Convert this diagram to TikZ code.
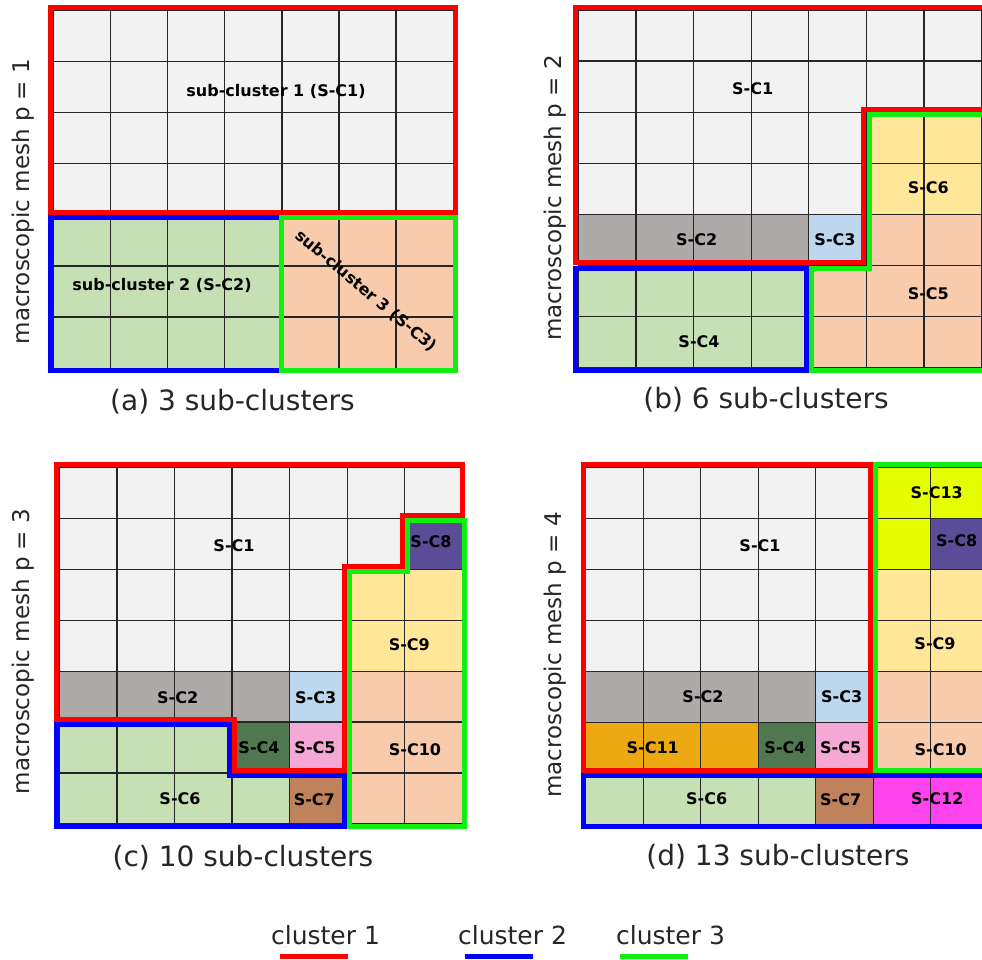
\documentclass[tikz,border=0pt]{standalone}
\usepackage{fontspec}
\setmainfont{DejaVu Sans}
\definecolor{cgrey}{HTML}{F2F2F2}
\definecolor{cgreen}{HTML}{C5E0B4}
\definecolor{cpeach}{HTML}{F8CBAD}
\definecolor{cdgrey}{HTML}{AEAAAA}
\definecolor{cblue}{HTML}{BDD7EE}
\definecolor{cyellow}{HTML}{FFE699}
\definecolor{cdkgreen}{HTML}{507850}
\definecolor{cpink}{HTML}{F5A8D6}
\definecolor{cbrown}{HTML}{BF825A}
\definecolor{cpurple}{HTML}{5B4C98}
\definecolor{corange}{HTML}{EDA912}
\definecolor{cmagenta}{HTML}{FF44EE}
\definecolor{clime}{HTML}{E5FF00}
\definecolor{kred}{HTML}{FF0000}
\definecolor{kblue}{HTML}{0000FF}
\definecolor{kgreen}{HTML}{11EE11}
\def\ox{0.045}
\def\oy{0.05}
\newcommand\meshgrid{%
  \foreach \i in {0,...,7} {\draw[gridline] (\i,0) -- (\i,7);}
  \foreach \j in {0,...,7} {\draw[gridline] (0,\j) -- (7,\j);}}
\tikzset{
  gridline/.style={line width=1.3pt, black!85},
  clborder/.style={line width=5pt, line join=miter},
  sclab/.style={font=\fontsize{16}{18}\selectfont\bfseries, inner sep=0pt},
  captxt/.style={font=\fontsize{28}{32}\selectfont, inner sep=0pt, text=black!85},
  sidelbl/.style={font=\fontsize{23}{26}\selectfont, inner sep=0pt, rotate=90, text=black!85},
  legtxt/.style={font=\fontsize{25}{28}\selectfont, inner sep=0pt, text=black!85}
}
\begin{document}
\begin{tikzpicture}[x=1pt,y=-1pt]
\useasboundingbox (0,0) rectangle (982,959);
\fill[white] (0,0) rectangle (982,959);

% ---------------- panel (a)
\begin{scope}[xshift=53.3pt, yshift=-10pt, x=57.14pt, y=-51.19pt]
  \fill[cgrey] (0,0) rectangle (7,4);
  \fill[cgreen] (0,4) rectangle (4,7);
  \fill[cpeach] (4,4) rectangle (7,7);
  \meshgrid
  \draw[clborder, kred] (-\ox,-\oy) -- (7+\ox,-\oy) -- (7+\ox,4-\oy) -- (-\ox,4-\oy) -- cycle;
  \draw[clborder, kblue] (4,4+\oy) -- (-\ox,4+\oy) -- (-\ox,7+\oy) -- (4,7+\oy);
  \draw[clborder, kgreen] (4,4+\oy) -- (7+\ox,4+\oy) -- (7+\ox,7+\oy) -- (4,7+\oy) -- cycle;
\end{scope}
\node[sclab] (a1) at (276,91.7) {sub-cluster 1 (S-C1)};
\node[sclab] (a2) at (162,285) {sub-cluster 2 (S-C2)};
\node[sclab, rotate=-40] (a3) at (366,291) {sub-cluster 3 (S-C3)};
\node[sidelbl] (sa) at (23,201.5) {macroscopic mesh p = 1};
\node[captxt] (ca) at (232.5,402) {(a) 3 sub-clusters};

% ---------------- panel (b)
\begin{scope}[xshift=578.3pt, yshift=-10pt, x=57.63pt, y=-51.1pt]
  \fill[cgrey] (0,0) rectangle (7,2);
  \fill[cgrey] (0,2) rectangle (5,4);
  \fill[cdgrey] (0,4) rectangle (4,5);
  \fill[cblue] (4,4) rectangle (5,5);
  \fill[cyellow] (5,2) rectangle (7,4);
  \fill[cpeach] (5,4) rectangle (7,7);
  \fill[cpeach] (4,5) rectangle (5,7);
  \fill[cgreen] (0,5) rectangle (4,7);
  \meshgrid
  \draw[clborder, kred] (-\ox,-\oy) -- (7+\ox,-\oy) -- (7+\ox,2-\oy) -- (5-\ox,2-\oy) -- (5-\ox,5-\oy) -- (-\ox,5-\oy) -- cycle;
  \draw[clborder, kgreen] (5+\ox,2+\oy) -- (7+\ox,2+\oy) -- (7+\ox,7+\oy) -- (4+\ox,7+\oy) -- (4+\ox,5+\oy) -- (5+\ox,5+\oy) -- cycle;
  \draw[clborder, kblue] (-\ox,5+\oy) -- (4-\ox,5+\oy) -- (4-\ox,7+\oy) -- (-\ox,7+\oy) -- cycle;
\end{scope}
\node[sclab] (b1) at (752.7,89) {S-C1};
\node[sclab] (b6) at (928.3,187.7) {S-C6};
\node[sclab] (b2) at (696.7,240) {S-C2};
\node[sclab] (b3) at (835,240) {S-C3};
\node[sclab] (b5) at (928.3,293.3) {S-C5};
\node[sclab] (b4) at (699,341.7) {S-C4};
\node[sidelbl] (sb) at (555,198) {macroscopic mesh p = 2};
\node[captxt] (cb) at (766,400) {(b) 6 sub-clusters};

% ---------------- panel (c)
\begin{scope}[xshift=59.3pt, yshift=-467.3pt, x=57.57pt, y=-50.96pt]
  \fill[cgrey] (0,0) rectangle (7,1);
  \fill[cgrey] (0,1) rectangle (6,2);
  \fill[cgrey] (0,2) rectangle (5,4);
  \fill[cpurple] (6,1) rectangle (7,2);
  \fill[cyellow] (5,2) rectangle (7,4);
  \fill[cdgrey] (0,4) rectangle (4,5);
  \fill[cblue] (4,4) rectangle (5,5);
  \fill[cpeach] (5,4) rectangle (7,7);
  \fill[cgreen] (0,5) rectangle (3,6);
  \fill[cgreen] (0,6) rectangle (4,7);
  \fill[cdkgreen] (3,5) rectangle (4,6);
  \fill[cpink] (4,5) rectangle (5,6);
  \fill[cbrown] (4,6) rectangle (5,7);
  \meshgrid
  \draw[clborder, kred] (-\ox,-\oy) -- (7,-\oy) -- (7,1-\oy) -- (6-\ox,1-\oy) -- (6-\ox,2-\oy) -- (5-\ox,2-\oy) -- (5-\ox,6-\oy) -- (3+\ox,6-\oy) -- (3+\ox,5-\oy) -- (-\ox,5-\oy) -- cycle;
  \draw[clborder, kblue] (-\ox,5+\oy) -- (3-\ox,5+\oy) -- (3-\ox,6+\oy) -- (5-\ox,6+\oy) -- (5-\ox,7+\oy) -- (-\ox,7+\oy) -- cycle;
  \draw[clborder, kgreen] (5+\ox,7+\oy) -- (5+\ox,2+\oy) -- (6+\ox,2+\oy) -- (6+\ox,1+\oy) -- (7+\ox,1+\oy) -- (7+\ox,7+\oy) -- cycle;
\end{scope}
\node[sclab] (c1) at (234,546) {S-C1};
\node[sclab] (c8) at (431,541.7) {S-C8};
\node[sclab] (c9) at (409.3,645) {S-C9};
\node[sclab] (c2) at (177.7,697.3) {S-C2};
\node[sclab] (c3) at (315.7,697.3) {S-C3};
\node[sclab] (c4) at (259,747.7) {S-C4};
\node[sclab] (c5) at (315,747.7) {S-C5};
\node[sclab] (c10) at (415,750) {S-C10};
\node[sclab] (c6) at (180,799) {S-C6};
\node[sclab] (c7) at (314.3,800) {S-C7};
\node[sidelbl] (sc) at (23,651.5) {macroscopic mesh p = 3};
\node[captxt] (cc) at (243,858) {(c) 10 sub-clusters};

% ---------------- panel (d)
\begin{scope}[xshift=585.7pt, yshift=-467.3pt, x=57.5pt, y=-51pt]
  \fill[cgrey] (0,0) rectangle (5,4);
  \fill[cdgrey] (0,4) rectangle (4,5);
  \fill[cblue] (4,4) rectangle (5,5);
  \fill[corange] (0,5) rectangle (3,6);
  \fill[cdkgreen] (3,5) rectangle (4,6);
  \fill[cpink] (4,5) rectangle (5,6);
  \fill[cgreen] (0,6) rectangle (4,7);
  \fill[cbrown] (4,6) rectangle (5,7);
  \fill[cmagenta] (5,6) rectangle (7,7);
  \fill[clime] (5,0) rectangle (7,1);
  \fill[clime] (5,1) rectangle (6,2);
  \fill[cpurple] (6,1) rectangle (7,2);
  \fill[cyellow] (5,2) rectangle (7,4);
  \fill[cpeach] (5,4) rectangle (7,6);
  \meshgrid
  \draw[clborder, kred] (-\ox,-\oy) -- (5-\ox,-\oy) -- (5-\ox,6-\oy) -- (-\ox,6-\oy) -- cycle;
  \draw[clborder, kgreen] (5+\ox,-\oy) -- (7+\ox,-\oy) -- (7+\ox,6-\oy) -- (5+\ox,6-\oy) -- cycle;
  \draw[clborder, kblue] (-\ox,6+\oy) -- (7+\ox,6+\oy) -- (7+\ox,7+\oy) -- (-\ox,7+\oy) -- cycle;
\end{scope}
\node[sclab] (d13) at (936.7,492.7) {S-C13};
\node[sclab] (d8) at (956.7,540.7) {S-C8};
\node[sclab] (d1) at (760,546) {S-C1};
\node[sclab] (d9) at (935,644) {S-C9};
\node[sclab] (d2) at (703,697) {S-C2};
\node[sclab] (d3) at (841.7,697) {S-C3};
\node[sclab] (d11) at (652.7,747.7) {S-C11};
\node[sclab] (d4) at (785,747.7) {S-C4};
\node[sclab] (d5) at (840.7,747.7) {S-C5};
\node[sclab] (d10) at (940.7,750) {S-C10};
\node[sclab] (d6) at (706.7,799) {S-C6};
\node[sclab] (d7) at (840.7,800) {S-C7};
\node[sclab] (d12) at (937.3,799) {S-C12};
\node[sidelbl] (sd) at (555,655) {macroscopic mesh p = 4};
\node[captxt] (cd) at (778,857) {(d) 13 sub-clusters};

% ---------------- legend
\node[legtxt] (l1) at (325.5,935) {cluster 1};
\node[legtxt] (l2) at (512.5,935) {cluster 2};
\node[legtxt] (l3) at (670.5,935) {cluster 3};
\draw[line width=5pt, kred] (280,956) -- (348,956);
\draw[line width=5pt, kblue] (465,956) -- (533,956);
\draw[line width=5pt, kgreen] (620,956) -- (688,956);
\end{tikzpicture}
\end{document}
